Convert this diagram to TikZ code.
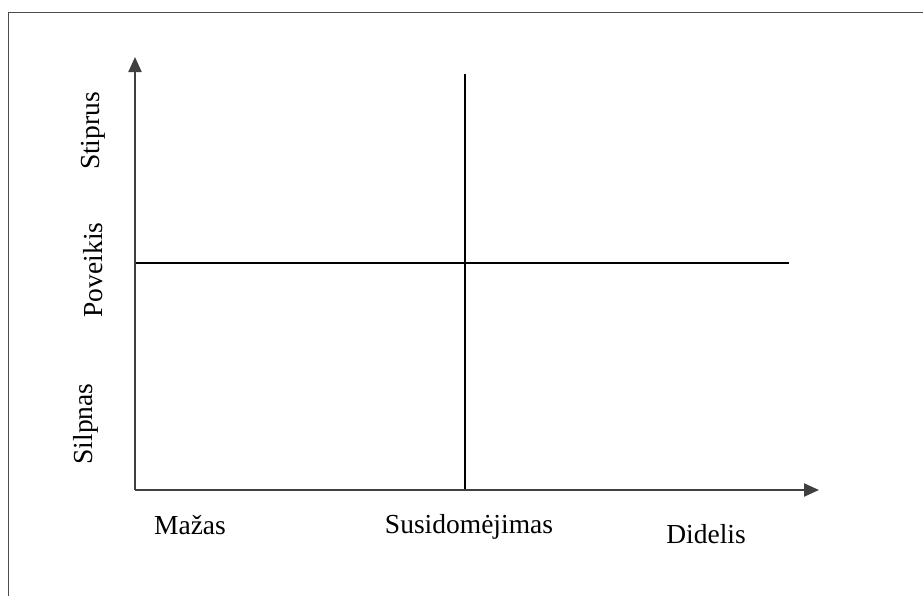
\documentclass[tikz,border=0pt]{standalone}
\usepackage{fontspec}
\setmainfont{Liberation Serif}
\usetikzlibrary{arrows.meta}
\begin{document}
\begin{tikzpicture}[x=1pt,y=-1pt,
  axis/.style={draw=black!75,line width=2.2pt,-{Triangle[length=15pt,width=13pt]}},
  divline/.style={draw=black,line width=1.4pt},
  lbl/.style={font=\fontsize{27.5}{32}\selectfont,inner sep=0pt,anchor=base},
  vlbl/.style={lbl,rotate=90}]
\useasboundingbox (0,0) rectangle (923,595);
\begin{scope}
\clip (0,0) rectangle (923,595);
\draw[black!70,line width=1.8pt] (8.5,12.5) rectangle (940,610);
\end{scope}
\coordinate (o) at (135,490);
\coordinate (ytip) at (135,57);
\coordinate (xtip) at (819,490);
\coordinate (vtop) at (465,74);
\coordinate (vbot) at (465,490);
\coordinate (hl) at (135,263);
\coordinate (hr) at (789,263);
\draw[divline] (vtop) -- (vbot);
\draw[divline] (hl) -- (hr);
\draw[axis] (o) -- (ytip);
\draw[axis] (o) -- (xtip);
\node[lbl] (mazas) at (190,534) {Mažas};
\node[lbl] (sus) at (469,533) {Susidomėjimas};
\node[lbl] (did) at (706,543) {Didelis};
\node[vlbl] (stip) at (99,131) {Stiprus};
\node[vlbl] (pov) at (102,270) {Poveikis};
\node[vlbl] (silp) at (92,424) {Silpnas};
\end{tikzpicture}
\end{document}
